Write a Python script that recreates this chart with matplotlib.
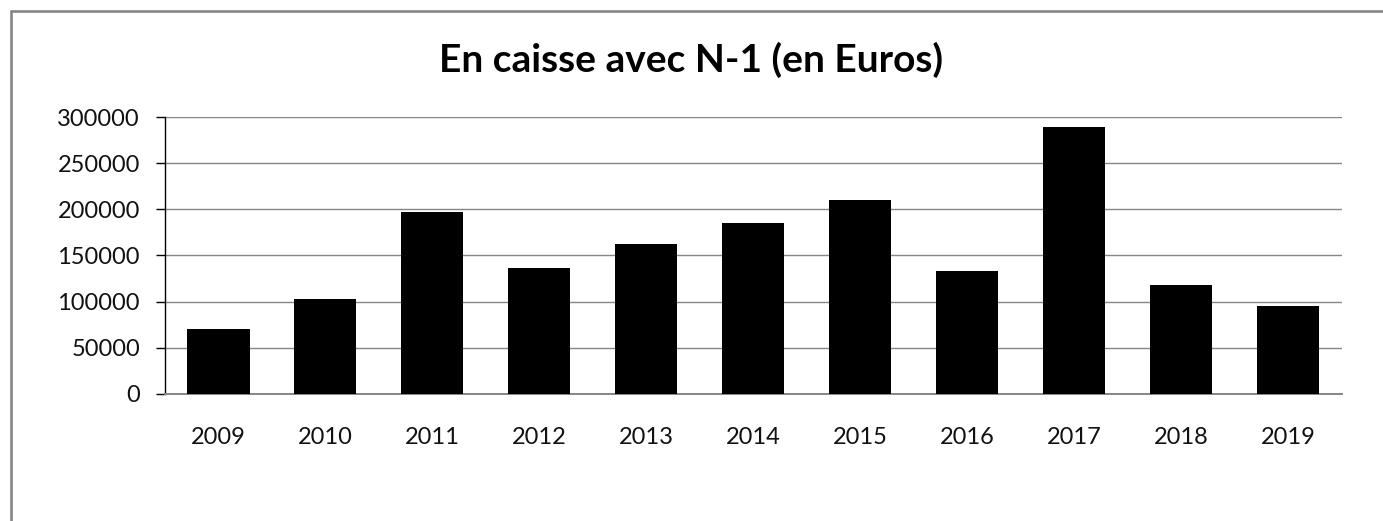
import matplotlib
matplotlib.use("Agg")
import matplotlib.pyplot as plt
from matplotlib.patches import Rectangle

years = ["2009", "2010", "2011", "2012", "2013", "2014", "2015", "2016", "2017", "2018", "2019"]
values = [70000, 103000, 197000, 136000, 162000, 185000, 210000, 133000, 289000, 118000, 95000]
yticks = [0, 50000, 100000, 150000, 200000, 250000, 300000]

plt.rcParams["font.family"] = ["Lato", "DejaVu Sans"]

W, H = 1383, 521
fig = plt.figure(figsize=(W / 100, H / 100), dpi=100)

# outer chart frame (runs off right/bottom edges like the source)
fig.patches.append(Rectangle((11 / W, -0.1), 1.2, 1 - 11 / H + 0.1, transform=fig.transFigure,
                             fill=False, edgecolor="#868686", linewidth=1.9))

ax = fig.add_axes([165 / W, 1 - 393.7 / H, (1341.7 - 165) / W, (393.7 - 117.3) / H])
x = list(range(len(years)))
ax.bar(x, values, width=0.58, color="black", zorder=3)

ax.set_xlim(-0.5, len(years) - 0.5)
ax.set_ylim(0, 300000)
ax.set_yticks(yticks)
ax.set_yticklabels([str(v) for v in yticks])
ax.set_xticks(x)
ax.set_xticklabels(years)
ax.yaxis.grid(True, color="#868686", linewidth=1.0, zorder=0)

for s in ["top", "right"]:
    ax.spines[s].set_visible(False)
ax.spines["left"].set_color("black")
ax.spines["left"].set_linewidth(1.0)
ax.spines["bottom"].set_color("#868686")
ax.spines["bottom"].set_linewidth(1.4)

ax.tick_params(axis="y", length=6.5, width=1.0, color="black", labelsize=17, pad=11.5, labelcolor="#111111")
ax.tick_params(axis="x", length=0, labelsize=17, pad=24, labelcolor="#111111")

fig.text(0.5, 1 - 60 / H, "En caisse avec N-1 (en Euros)", ha="center", va="center",
         fontsize=28, fontweight="bold", color="black")

fig.savefig("out.png", dpi=100)
